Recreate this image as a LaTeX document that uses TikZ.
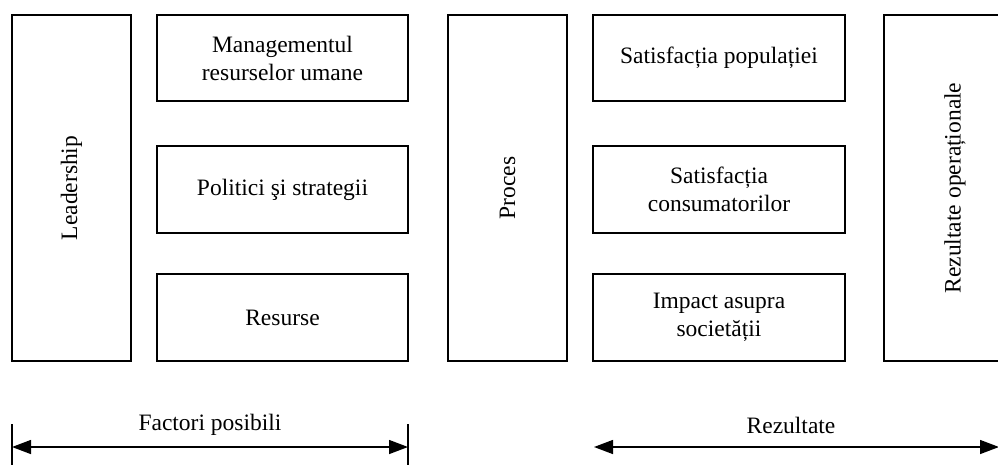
\documentclass[tikz,border=0pt]{standalone}
\usepackage{fontspec}
\setmainfont{Liberation Serif}
\usetikzlibrary{arrows.meta}
\begin{document}
\begin{tikzpicture}[x=1pt,y=-1pt,
  box/.style={draw=black,line width=1.4pt,inner sep=0pt,align=center,
    font=\fontsize{23.5}{28}\selectfont},
  lbl/.style={inner sep=0pt,font=\fontsize{23.5}{28}\selectfont},
  dbl/.style={line width=1.4pt,{Triangle[length=19pt,width=14pt]}-{Triangle[length=19pt,width=14pt]}},
  tick/.style={line width=1.4pt}]
\useasboundingbox (0,0) rectangle (998,464);
\clip (0,0) rectangle (998,464);
% left column
\node[box,minimum width=119pt,minimum height=346pt] (lead) at (71.5,188) {};
\node[lbl,rotate=90] (leadt) at (lead.center) {Leadership};
\node[box,minimum width=251pt,minimum height=86pt] (mgmt) at (282.5,58) {Managementul\\resurselor umane};
\node[box,minimum width=251pt,minimum height=87pt] (pol) at (282.5,189.5) {Politici şi strategii};
\node[box,minimum width=251pt,minimum height=87pt] (res) at (282.5,317.5) {Resurse};
% process
\node[box,minimum width=119pt,minimum height=346pt] (proc) at (507.5,188) {};
\node[lbl,rotate=90] (proct) at (proc.center) {Proces};
% results
\node[box,minimum width=252pt,minimum height=86pt] (sp) at (719,58) {Satisfacția populației};
\node[box,minimum width=252pt,minimum height=87pt] (sc) at (719,189.5) {Satisfacția\\consumatorilor};
\node[box,minimum width=252pt,minimum height=87pt] (imp) at (719,317.5) {Impact asupra\\societății};
\node[box,minimum width=142pt,minimum height=346pt] (rez) at (955,188) {};
\node[lbl,rotate=90] (rezt) at (rez.center) {Rezultate operaționale};
% bottom arrows
\coordinate (fa) at (12,447);
\coordinate (fb) at (408,447);
\coordinate (fat) at (12,424);
\coordinate (fab) at (12,465);
\coordinate (fbt) at (408,424);
\coordinate (fbb) at (408,465);
\draw[tick] (fat) -- (fab);
\draw[tick] (fbt) -- (fbb);
\draw[dbl] (fa) -- (fb);
\node[lbl] (ft) at (210,425) {Factori posibili};
\coordinate (ra) at (594,447);
\coordinate (rb) at (999,447);
\draw[dbl] (ra) -- (rb);
\node[lbl] (rt) at (791,425) {Rezultate};
\end{tikzpicture}
\end{document}
